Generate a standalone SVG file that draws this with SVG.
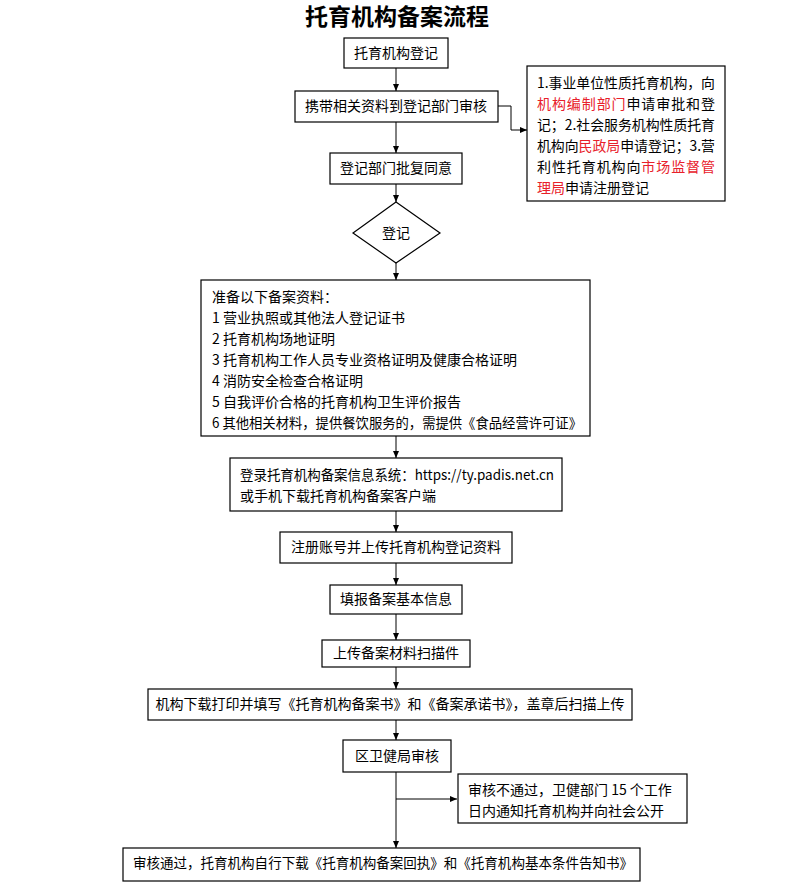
<svg xmlns="http://www.w3.org/2000/svg" width="795" height="882" viewBox="0 0 795 882">
<defs>
<marker id="a" markerWidth="8" markerHeight="8" refX="7" refY="4" orient="auto" markerUnits="userSpaceOnUse"><path d="M0,1 L7,4 L0,7 z" fill="#000"/></marker>
<style>
.b{fill:#fff;stroke:#000;stroke-width:1.2}
.t{font-family:"Noto Sans CJK SC","Liberation Sans",sans-serif;font-size:14px;fill:#000}
.c{text-anchor:middle}
.r{fill:#e8202a}
.l{stroke:#000;stroke-width:1;fill:none;marker-end:url(#a)}
</style>
</defs>
<rect width="795" height="882" fill="#fff"/>
<text x="397" y="25" class="t c" style="font-size:23px;font-weight:bold">托育机构备案流程</text>
<g id="connectors">
<line x1="396" y1="68" x2="396" y2="91" class="l"/>
<line x1="396" y1="122" x2="396" y2="153" class="l"/>
<line x1="396" y1="184" x2="396" y2="202" class="l"/>
<line x1="396" y1="263" x2="396" y2="280" class="l"/>
<polyline points="498,106 511,106 511,130 527,130" class="l"/>
<line x1="396" y1="436" x2="396" y2="458" class="l"/>
<line x1="396" y1="511" x2="396" y2="532" class="l"/>
<line x1="396" y1="563" x2="396" y2="585" class="l"/>
<line x1="396" y1="614" x2="396" y2="640" class="l"/>
<line x1="396" y1="667" x2="396" y2="689" class="l"/>
<line x1="396" y1="720" x2="396" y2="740" class="l"/>
<line x1="396" y1="772" x2="396" y2="848" class="l"/>
<line x1="396" y1="799" x2="457" y2="799" class="l"/>
</g>
<g id="n1"><rect x="344" y="38" width="104" height="30" class="b"/><text x="396" y="58" class="t c">托育机构登记</text></g>
<g id="n2"><rect x="295" y="91" width="203" height="31" class="b"/><text x="396" y="111" class="t c">携带相关资料到登记部门审核</text></g>
<g id="n3"><rect x="330" y="153" width="132" height="31" class="b"/><text x="396" y="173" class="t c">登记部门批复同意</text></g>
<g id="n4"><polygon points="396,202 440,233 396,263 353,233" class="b"/><text x="396" y="238" class="t c">登记</text></g>
<g id="side"><rect x="527" y="66" width="198" height="135" class="b"/>
<text class="t" x="537" y="88" textLength="178" lengthAdjust="spacingAndGlyphs">1.事业单位性质托育机构，向</text>
<text class="t" x="537" y="109" textLength="178"><tspan class="r">机构编制部门</tspan>申请审批和登</text>
<text class="t" x="537" y="130" textLength="178" lengthAdjust="spacingAndGlyphs">记；2.社会服务机构性质托育</text>
<text class="t" x="537" y="151" textLength="178" lengthAdjust="spacingAndGlyphs">机构向<tspan class="r">民政局</tspan>申请登记；3.营</text>
<text class="t" x="537" y="172" textLength="178">利性托育机构向<tspan class="r">市场监督管</tspan></text>
<text class="t" x="537" y="193"><tspan class="r">理局</tspan>申请注册登记</text></g>
<g id="list"><rect x="201" y="280" width="389" height="156" class="b"/>
<text class="t" x="212" y="302">准备以下备案资料：</text>
<text class="t" x="212" y="323">1 营业执照或其他法人登记证书</text>
<text class="t" x="212" y="344">2 托育机构场地证明</text>
<text class="t" x="212" y="365">3 托育机构工作人员专业资格证明及健康合格证明</text>
<text class="t" x="212" y="386">4 消防安全检查合格证明</text>
<text class="t" x="212" y="407">5 自我评价合格的托育机构卫生评价报告</text>
<text class="t" x="212" y="428" textLength="370" lengthAdjust="spacingAndGlyphs">6 其他相关材料，提供餐饮服务的，需提供《食品经营许可证》</text></g>
<g id="n5"><rect x="230" y="458" width="332" height="53" class="b"/>
<text class="t" x="240" y="480" textLength="314" lengthAdjust="spacingAndGlyphs">登录托育机构备案信息系统：https://ty.padis.net.cn</text>
<text class="t" x="240" y="501">或手机下载托育机构备案客户端</text></g>
<g id="n6"><rect x="280" y="532" width="232" height="31" class="b"/><text x="396" y="552" class="t c">注册账号并上传托育机构登记资料</text></g>
<g id="n7"><rect x="330" y="585" width="132" height="29" class="b"/><text x="396" y="604" class="t c">填报备案基本信息</text></g>
<g id="n8"><rect x="322" y="640" width="148" height="27" class="b"/><text x="396" y="658" class="t c">上传备案材料扫描件</text></g>
<g id="n9"><rect x="148" y="689" width="484" height="31" class="b"/><text x="390" y="709" class="t c">机构下载打印并填写《托育机构备案书》和《备案承诺书》，盖章后扫描上传</text></g>
<g id="n10"><rect x="343" y="740" width="108" height="32" class="b"/><text x="397" y="761" class="t c">区卫健局审核</text></g>
<g id="n11"><rect x="458" y="774" width="229" height="49" class="b"/>
<text class="t" x="468" y="795">审核不通过，卫健部门 15 个工作</text>
<text class="t" x="468" y="816">日内通知托育机构并向社会公开</text></g>
<g id="n12"><rect x="123" y="848" width="517" height="33" class="b"/><text x="133" y="868" class="t" textLength="500" lengthAdjust="spacingAndGlyphs">审核通过，托育机构自行下载《托育机构备案回执》和《托育机构基本条件告知书》</text></g>
</svg>
